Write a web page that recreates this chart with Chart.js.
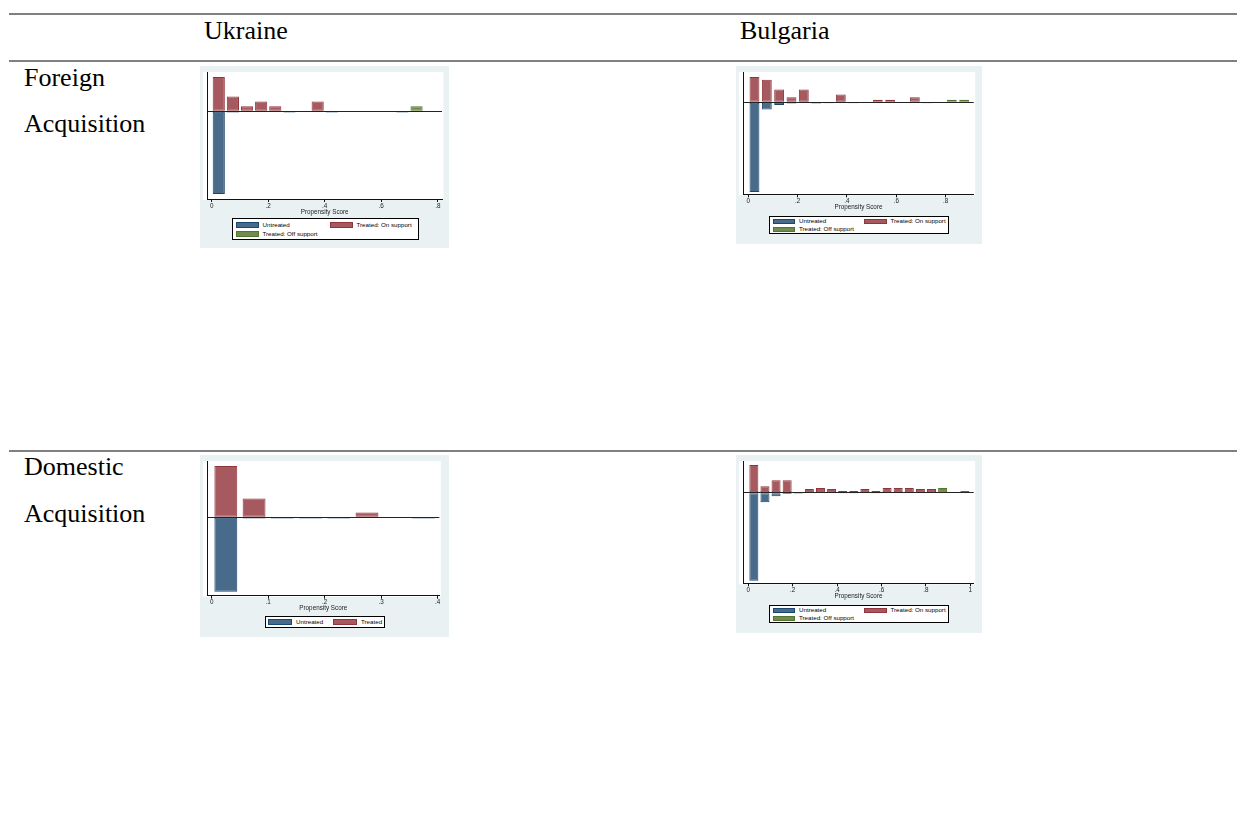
<!DOCTYPE html>
<html>
<head>
<meta charset="utf-8">
<title>Propensity score histograms</title>
<script src="https://cdn.jsdelivr.net/npm/chart.js@4.4.0/dist/chart.umd.min.js"></script>
<style>
  body { margin: 0; background: #fff; }
  #page { position: relative; width: 1237px; height: 830px; overflow: hidden;
          font-family: "Liberation Serif", "Times New Roman", serif; }
  .rule { position: absolute; left: 9px; right: 0; height: 2px; background: #808080; }
  .txt { position: absolute; font-size: 26px; line-height: 30px; color: #000; white-space: nowrap; }
  .panel { position: absolute; background: #eaf1f3; }
  .panel canvas { position: absolute; left: 0; top: 0; }
  .legend { position: absolute; box-sizing: border-box; border: 1px solid #000; background: #fff;
            font-family: "Liberation Sans", Arial, sans-serif; font-size: 6.2px; line-height: 6px; color: #000; }
  .item { position: absolute; display: flex; align-items: center; white-space: nowrap; line-height: 6px; }
  .sw { box-sizing: border-box; border: 1px solid; margin-right: 4px; }
</style>
</head>
<body>
<div id="page">
  <div class="rule" style="top:13px"></div>
  <div class="rule" style="top:60px"></div>
  <div class="rule" style="top:450px"></div>

  <div class="txt" style="left:204px; top:16px">Ukraine</div>
  <div class="txt" style="left:740px; top:16px">Bulgaria</div>

  <div class="txt" style="left:24px; top:63px">Foreign</div>
  <div class="txt" style="left:24px; top:109px">Acquisition</div>
  <div class="txt" style="left:24px; top:452px">Domestic</div>
  <div class="txt" style="left:24px; top:499px">Acquisition</div>

  <div class="panel" id="p1" style="left:200px; top:66px; width:249px; height:182px">
    <canvas id="c1" width="249" height="182"></canvas>
  </div>
  <div class="panel" id="p2" style="left:736px; top:66px; width:246px; height:178px">
    <canvas id="c2" width="246" height="178"></canvas>
  </div>
  <div class="panel" id="p3" style="left:200px; top:455px; width:249px; height:182px">
    <canvas id="c3" width="249" height="182"></canvas>
  </div>
  <div class="panel" id="p4" style="left:736px; top:455px; width:246px; height:178px">
    <canvas id="c4" width="246" height="178"></canvas>
  </div>
</div>

<script>
// bin midpoints of the propensity score histograms (width .05)
const binMids = [0.025, 0.075, 0.125, 0.175, 0.225, 0.275, 0.325, 0.375, 0.425, 0.475,
                 0.525, 0.575, 0.625, 0.675, 0.725, 0.775, 0.825, 0.875, 0.925, 0.975];

// Ukraine - foreign acquisition (untreated drawn downwards)
const ukrForUntreated  = [-16.9, -0.25, null, null, null, -0.25, null, null, -0.25, null, null, null, null, -0.25, null, null];
const ukrForOnSupport  = [7, 3, 1, 2, 1, null, null, 2, null, null, null, null, null, null, null, null];
const ukrForOffSupport = [null, null, null, null, null, null, null, null, null, null, null, null, null, null, 1, null];
const ukrForTicks = [0, 0.2, 0.4, 0.6, 0.8];
const ukrForTickLabels = ["0", ".2", ".4", ".6", ".8"];

// Bulgaria - foreign acquisition
const bgForUntreated  = [-34.9, -2.8, -1.0, -0.5, null, -0.45, -0.4, null, -0.4, null, null, null, null, null, -0.4, null, null, null];
const bgForOnSupport  = [9.9, 8.8, 5, 2, 5, null, null, 3, null, null, 1, 1, null, 2, null, null, null, null];
const bgForOffSupport = [null, null, null, null, null, null, null, null, null, null, null, null, null, null, null, null, 1, 1];
const bgForTicks = [0, 0.2, 0.4, 0.6, 0.8];
const bgForTickLabels = ["0", ".2", ".4", ".6", ".8"];

// Ukraine - domestic acquisition
const ukrDomUntreated = [-14.9, -0.25, -0.25, -0.25, -0.25, null, null, -0.25];
const ukrDomTreated   = [10.3, 3.8, null, null, null, 1, null, null];
const ukrDomTicks = [0, 0.1, 0.2, 0.3, 0.4];
const ukrDomTickLabels = ["0", ".1", ".2", ".3", ".4"];

// Bulgaria - domestic acquisition
const bgDomUntreated  = [-52.8, -5.8, -2.2, -0.8, -0.6, null, null, null, -0.5, -0.5, null, -0.5, null, null, null, null, null, null, null, null];
const bgDomOnSupport  = [16.6, 3.8, 7.4, 7.4, null, 2.2, 2.8, 2.2, 1, 1, 2.2, 1, 2.8, 2.8, 2.8, 2.2, 2.2, null, null, null];
const bgDomOffSupport = [null, null, null, null, null, null, null, null, null, null, null, null, null, null, null, null, null, 2.8, null, 1];
const bgDomTicks = [0, 0.2, 0.4, 0.6, 0.8, 1];
const bgDomTickLabels = ["0", ".2", ".4", ".6", ".8", "1"];

const blue  = { fill: "#486a8b", line: "#1a476f" };
const red   = { fill: "#a65a60", line: "#90353b" };
const green = { fill: "#6f8b4f", line: "#55752f" };

const sans = '"Liberation Sans", Arial, sans-serif';

// white plot region, a bit wider than the axes like Stata draws it
const plotBg = {
    id: "plotBg",
    beforeDraw(chart) {
        const a = chart.chartArea;
        const ctx = chart.ctx;
        ctx.save();
        ctx.fillStyle = "#fff";
        ctx.fillRect(a.left - 4.5, a.top, a.right - a.left + 6, a.bottom - a.top + 1);
        ctx.restore();
    }
};

function toPoints(values) {
    const pts = [];
    values.forEach((v, i) => {
        if (v !== null) pts.push({ x: binMids[i], y: v });
    });
    return pts;
}

function barSet(label, values, col, pct) {
    return {
        label: label,
        data: toPoints(values),
        backgroundColor: col.fill,
        borderColor: col.line,
        borderWidth: 1,
        borderSkipped: false,
        grouped: false,
        barPercentage: pct,
        categoryPercentage: 1
    };
}

function drawPanel(cfg) {
    const canvas = document.getElementById(cfg.canvas);
    const axisH = 16.6;
    const datasets = cfg.series.map(s => barSet(s.label, s.values, s.col, cfg.barPct));

    new Chart(canvas, {
        type: "bar",
        data: { datasets: datasets },
        plugins: [plotBg],
        options: {
            responsive: false,
            animation: false,
            devicePixelRatio: 1,
            layout: {
                padding: {
                    left: cfg.area.left,
                    right: canvas.width - cfg.area.right,
                    top: cfg.area.top,
                    bottom: canvas.height - cfg.area.bottom - axisH
                }
            },
            plugins: { legend: { display: false }, tooltip: { enabled: false } },
            scales: {
                x: {
                    type: "linear",
                    offset: false,
                    min: cfg.xMin,
                    max: cfg.xMax,
                    afterBuildTicks: axis => { axis.ticks = cfg.ticks.map(v => ({ value: v })); },
                    afterFit: axis => { axis.height = axisH; },
                    ticks: {
                        autoSkip: false,
                        maxRotation: 0,
                        padding: 0,
                        color: "#222",
                        font: { family: sans, size: 6.3 },
                        callback: (v, i) => cfg.tickLabels[i]
                    },
                    grid: { display: true, offset: false, drawOnChartArea: false, drawTicks: true, tickLength: 3, color: "#111", lineWidth: 1 },
                    border: { display: true, color: "#111", width: 1 },
                    title: { display: true, text: "Propensity Score", color: "#222", padding: 0, font: { family: sans, size: 6.3 } }
                },
                y: {
                    min: cfg.yMin,
                    max: cfg.yMax,
                    afterBuildTicks: axis => { axis.ticks = [{ value: 0 }]; },
                    afterFit: axis => { axis.width = 0; },
                    ticks: { display: false },
                    grid: { display: true, drawTicks: false, color: "#222", lineWidth: 1 },
                    border: { display: true, color: "#111", width: 1 }
                }
            }
        }
    });

    // Stata style legend box under the plot
    const lg = cfg.legend;
    const box = document.createElement("div");
    box.className = "legend";
    box.style.left = lg.left + "px";
    box.style.top = lg.top + "px";
    box.style.width = lg.width + "px";
    box.style.height = lg.height + "px";
    cfg.series.forEach((s, i) => {
        const item = document.createElement("div");
        item.className = "item";
        item.style.left = lg.pos[i][0] + "px";
        item.style.top = lg.pos[i][1] + "px";
        item.style.height = lg.sw[1] + "px";
        const sw = document.createElement("span");
        sw.className = "sw";
        sw.style.width = lg.sw[0] + "px";
        sw.style.height = lg.sw[1] + "px";
        sw.style.background = s.col.fill;
        sw.style.borderColor = s.col.line;
        const txt = document.createElement("span");
        txt.textContent = s.label;
        item.appendChild(sw);
        item.appendChild(txt);
        box.appendChild(item);
    });
    canvas.parentNode.appendChild(box);
}

document.addEventListener("DOMContentLoaded", () => {
    drawPanel({
        canvas: "c1",
        series: [
            { label: "Untreated", values: ukrForUntreated, col: blue },
            { label: "Treated: On support", values: ukrForOnSupport, col: red },
            { label: "Treated: Off support", values: ukrForOffSupport, col: green }
        ],
        ticks: ukrForTicks, tickLabels: ukrForTickLabels,
        xMin: -0.0156, xMax: 0.815, yMin: -17.9, yMax: 8.0, barPct: 0.86,
        area: { left: 7.3, right: 242, top: 6, bottom: 133 },
        legend: { left: 32, top: 152, width: 187, height: 21.5, sw: [23, 6], pos: [[2.5, 2.5], [96.5, 2.5], [2.5, 11.5]] }
    });

    drawPanel({
        canvas: "c2",
        series: [
            { label: "Untreated", values: bgForUntreated, col: blue },
            { label: "Treated: On support", values: bgForOnSupport, col: red },
            { label: "Treated: Off support", values: bgForOffSupport, col: green }
        ],
        ticks: bgForTicks, tickLabels: bgForTickLabels,
        xMin: -0.0203, xMax: 0.9137, yMin: -35.8, yMax: 11.8, barPct: 0.8,
        area: { left: 7.3, right: 237.7, top: 6, bottom: 128.3 },
        legend: { left: 33, top: 149.5, width: 180, height: 18.5, sw: [22.5, 5.5], pos: [[2.5, 2], [94, 2], [2.5, 10]] }
    });

    drawPanel({
        canvas: "c3",
        series: [
            { label: "Untreated", values: ukrDomUntreated, col: blue },
            { label: "Treated", values: ukrDomTreated, col: red }
        ],
        ticks: ukrDomTicks, tickLabels: ukrDomTickLabels,
        xMin: -0.0078, xMax: 0.403, yMin: -15.7, yMax: 11.3, barPct: 0.81,
        area: { left: 7.3, right: 239.3, top: 6, bottom: 140.7 },
        legend: { left: 65, top: 161, width: 119.5, height: 12, sw: [24, 6.5], pos: [[2, 1.8], [67, 1.8]] }
    });

    drawPanel({
        canvas: "c4",
        series: [
            { label: "Untreated", values: bgDomUntreated, col: blue },
            { label: "Treated: On support", values: bgDomOnSupport, col: red },
            { label: "Treated: Off support", values: bgDomOffSupport, col: green }
        ],
        ticks: bgDomTicks, tickLabels: bgDomTickLabels,
        xMin: -0.0225, xMax: 1.015, yMin: -54.4, yMax: 19, barPct: 0.81,
        area: { left: 7.3, right: 237.7, top: 6, bottom: 128.3 },
        legend: { left: 33, top: 149.5, width: 180, height: 18.5, sw: [22.5, 5.5], pos: [[2.5, 2], [94, 2], [2.5, 10]] }
    });
});
</script>
</body>
</html>
